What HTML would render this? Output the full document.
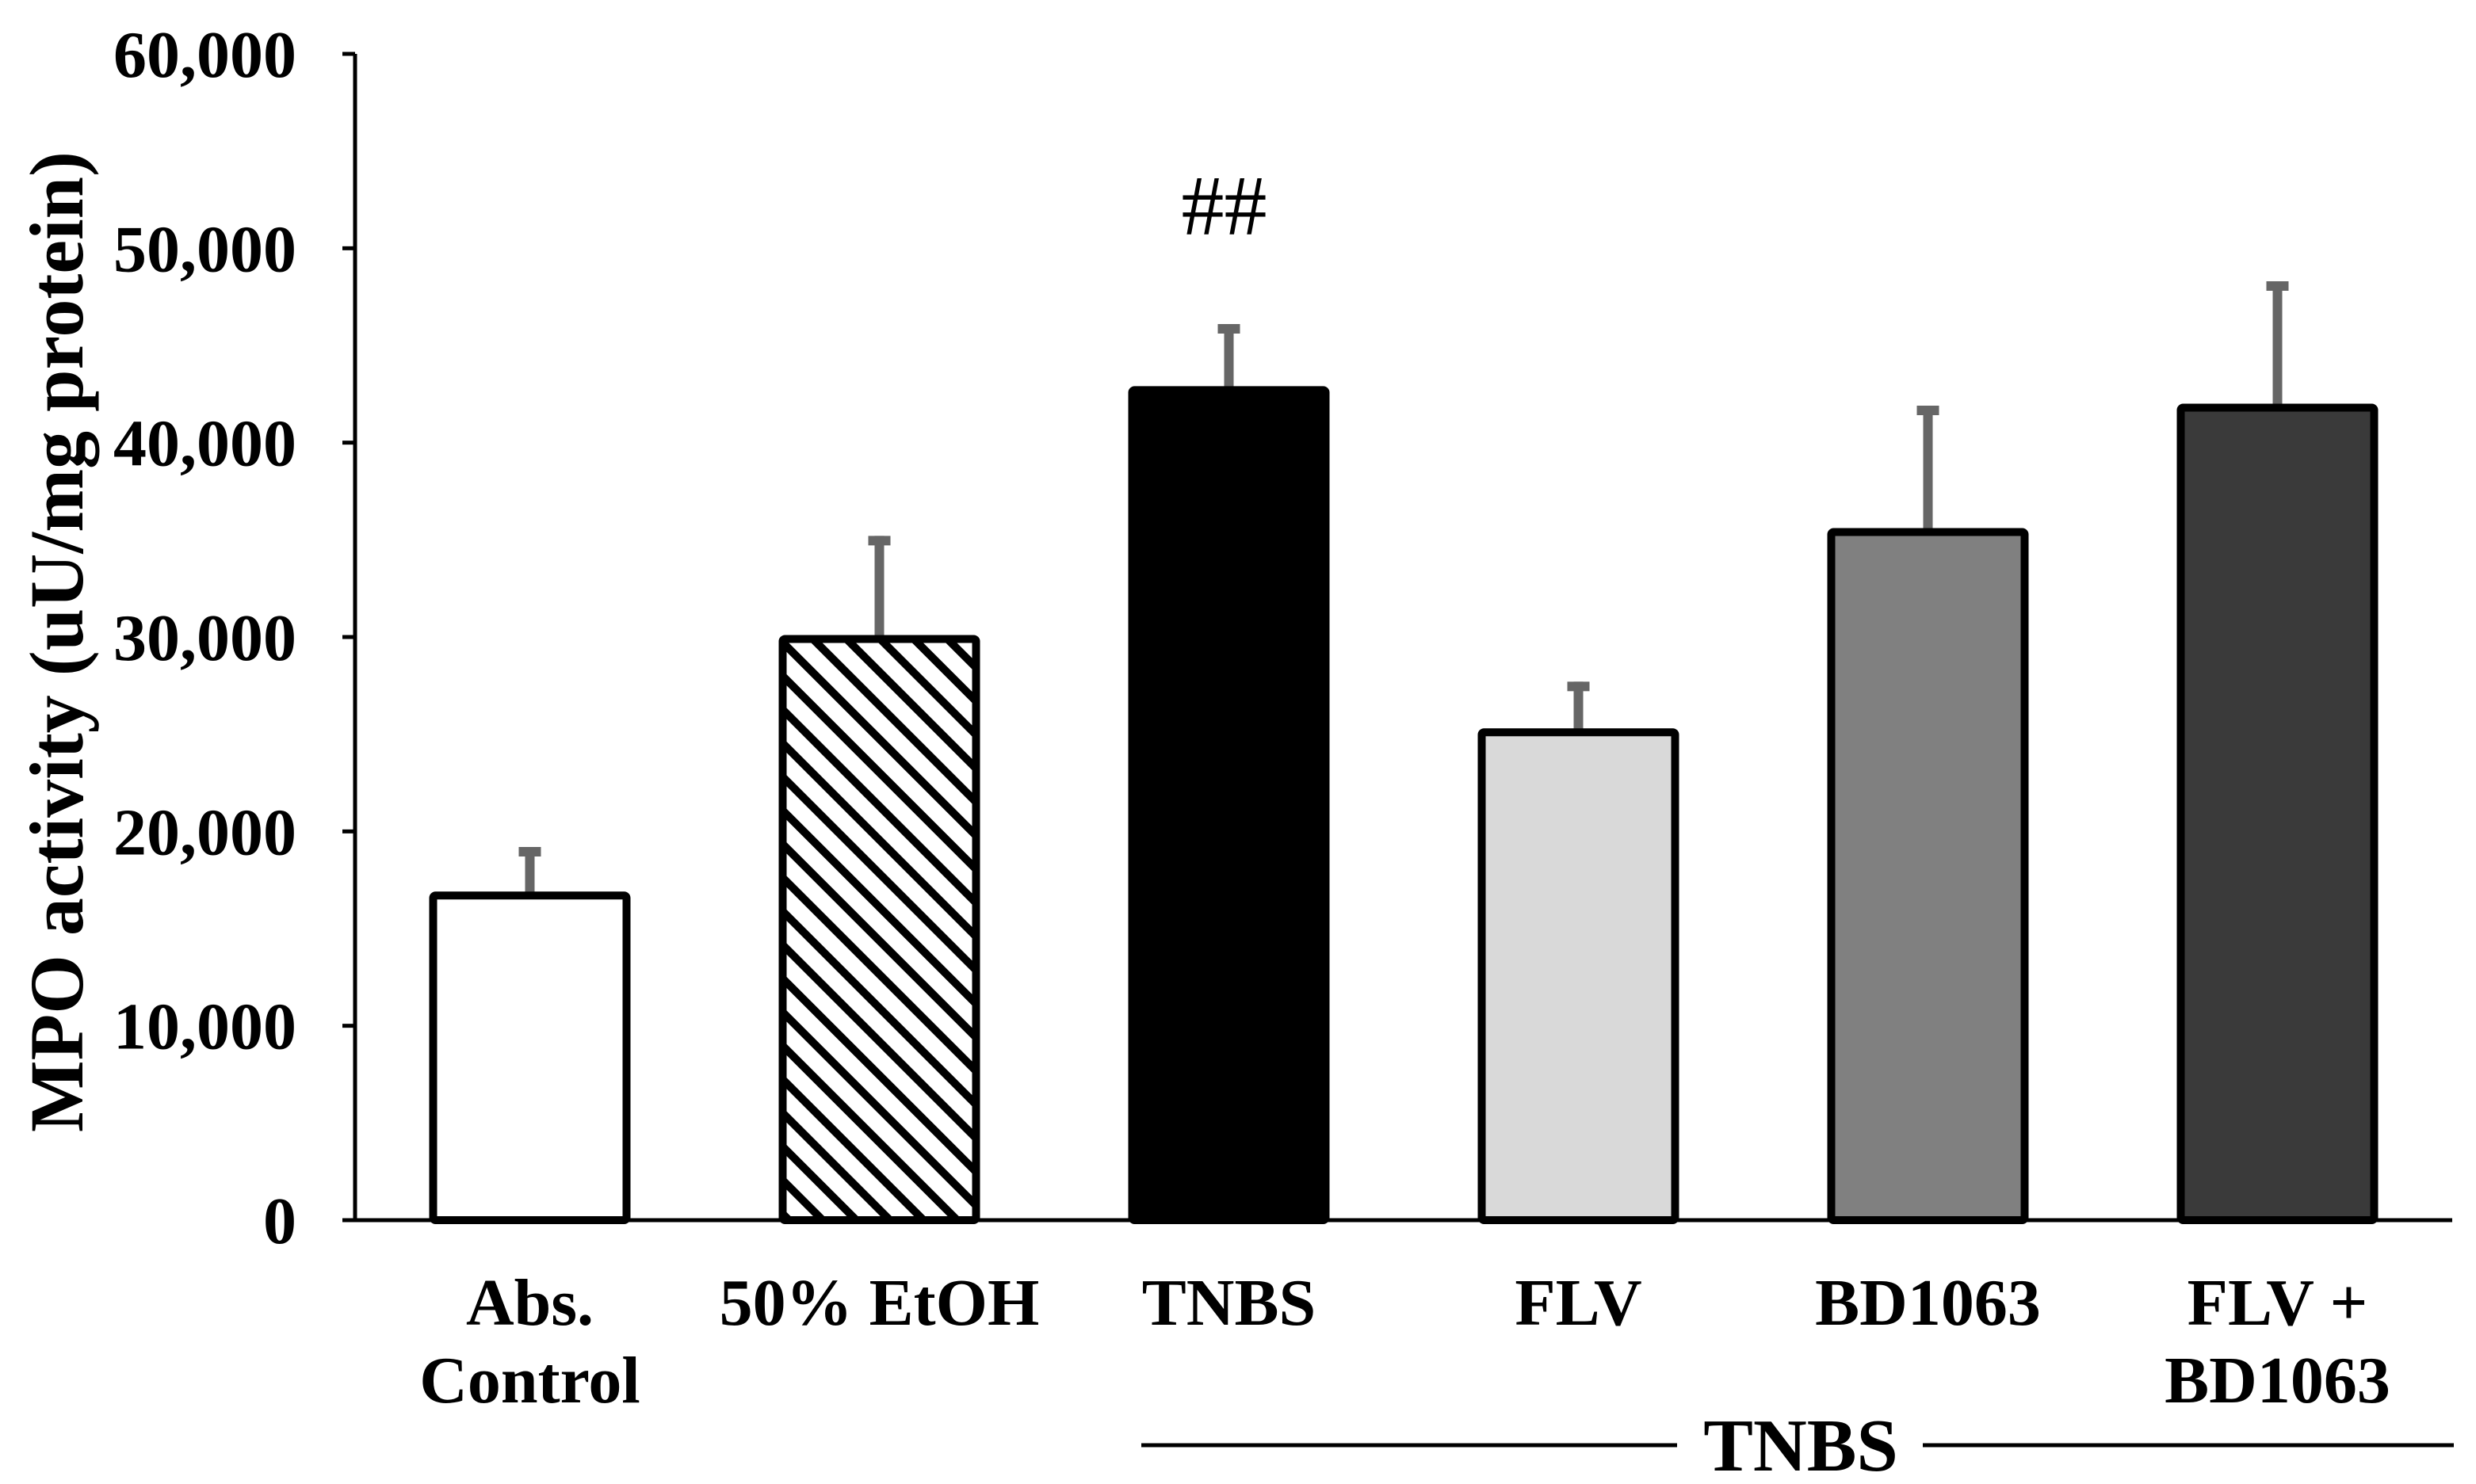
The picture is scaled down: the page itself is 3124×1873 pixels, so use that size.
<!DOCTYPE html>
<html><head><meta charset="utf-8"><style>
html,body{margin:0;padding:0;background:#fff;}
svg{display:block;font-family:"Liberation Serif",serif;font-weight:bold;}
</style></head><body>
<svg id="chart" width="3124" height="1873" viewBox="0 0 3124 1873" xmlns="http://www.w3.org/2000/svg">
<defs>
<pattern id="hatch" patternUnits="userSpaceOnUse" width="30" height="30" patternTransform="rotate(-45)">
<rect width="30" height="30" fill="#fff"/>
<rect x="0" y="0" width="10" height="30" fill="#000"/>
</pattern>
</defs>
<g id="plot"></g>
</svg>
<script>
const categories = [["Abs.","Control"],["50% EtOH"],["TNBS"],["FLV"],["BD1063"],["FLV +","BD1063"]];
const values = [16700, 29900, 42700, 25100, 35400, 41800];
const errors = [2500, 5300, 3400, 2600, 6500, 6500];
const fills = ["#ffffff","url(#hatch)","#000000","#d9d9d9","#808080","#3a3a3a"];
const yTicks = [0,10000,20000,30000,40000,50000,60000];
const yTickLabels = ["0","10,000","20,000","30,000","40,000","50,000","60,000"];

const NS="http://www.w3.org/2000/svg";
const g=document.getElementById('plot');
const X0=448, X1=3094, Y0=1540, Ytop=68, YMAX=60000;
const y=v=>Y0-(v/YMAX)*(Y0-Ytop);
const band=(X1-X0)/categories.length;
const xc=i=>X0+band*(i+0.5);
function mk(tag,attrs,text){const e=document.createElementNS(NS,tag);for(const k in attrs)e.setAttribute(k,attrs[k]);if(text!==undefined)e.textContent=text;g.appendChild(e);return e;}

yTicks.forEach((t,i)=>{
  const tk=mk('line',{x1:X0-16,x2:X0,y1:y(t),y2:y(t),stroke:'#000','stroke-width':5});
  
  
  const lb=mk('text',{x:374,y:y(t)+29,'text-anchor':'end','font-size':84},yTickLabels[i]);
  
  
});

values.forEach((v,i)=>{
  const cx=xc(i), w=244;
  const eb=mk('line',{x1:cx,x2:cx,y1:y(v),y2:y(v+errors[i]),stroke:'#666','stroke-width':12});
  
  
  const cap=mk('line',{x1:cx-14,x2:cx+14,y1:y(v+errors[i])+6,y2:y(v+errors[i])+6,stroke:'#666','stroke-width':12});
  
  
  const r=mk('rect',{x:cx-w/2,y:y(v),width:w,height:Y0-y(v),fill:fills[i],stroke:'#000','stroke-width':10,rx:3});
  
  
  categories[i].forEach((ln,j)=>{
    const t=mk('text',{x:cx,y:1672+j*98,'text-anchor':'middle','font-size':84},ln);
    
    
  });
});

const ya=mk('line',{x1:X0,x2:X0,y1:Ytop,y2:Y0,stroke:'#000','stroke-width':5});


const xa=mk('line',{x1:X0-16,x2:X1,y1:Y0,y2:Y0,stroke:'#000','stroke-width':5});



const yt=mk('text',{x:0,y:0,'text-anchor':'middle','font-size':96,transform:'translate(104,810) rotate(-90)'},'MPO activity (uU/mg protein)');



const sig=mk('text',{x:xc(2)-6,y:296,'text-anchor':'middle','font-size':108,'font-weight':'normal'},'##');



const l1=mk('line',{x1:1440,x2:2116,y1:1824,y2:1824,stroke:'#000','stroke-width':5});


const l2=mk('line',{x1:2426,x2:3096,y1:1824,y2:1824,stroke:'#000','stroke-width':5});


const gl=mk('text',{x:2272,y:1856,'text-anchor':'middle','font-size':94},'TNBS');


</script>
</body></html>
